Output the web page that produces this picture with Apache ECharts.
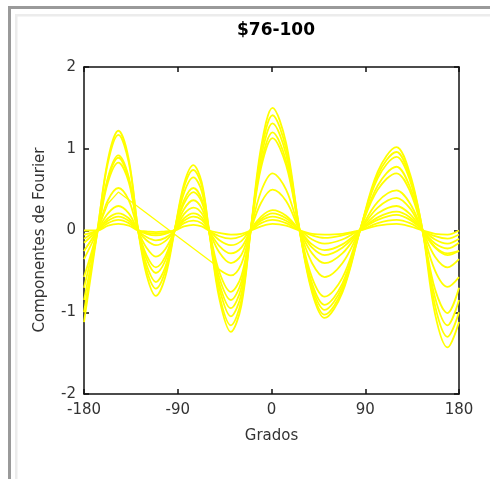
<!DOCTYPE html>
<html>
<head>
<meta charset="utf-8">
<script src="https://cdn.jsdelivr.net/npm/echarts@6/dist/echarts.min.js"></script>
<style>
html,body{margin:0;padding:0;background:#fff;}
#c{width:490px;height:479px;}
</style>
</head>
<body>
<div id="c"></div>
<script>
// Degrees (x samples, placed at the zero crossings, peaks and troughs)
var grados = [-180,-167,-157,-147,-137,-128,-120,-111,-102,-93,-84,-75,-67,-60,-50,-39,-29,-20,-10,1,14,27,39,51,68,85,102,120,133,145,157,169,180];

var curve1 = [-1.12,0.00,0.87,1.22,0.87,0.00,-0.54,-0.80,-0.57,0.00,0.57,0.80,0.59,0.00,-0.84,-1.24,-0.92,0.00,1.02,1.50,1.07,0.00,-0.76,-1.07,-0.76,0.00,0.72,1.02,0.69,0.00,-1.02,-1.43,-1.12];
var curve2 = [-1.00,0.02,0.83,1.17,0.83,0.01,-0.48,-0.71,-0.50,0.00,0.53,0.74,0.55,0.01,-0.79,-1.16,-0.86,-0.01,0.96,1.41,1.00,0.01,-0.73,-1.03,-0.73,0.00,0.68,0.96,0.65,0.01,-0.92,-1.30,-1.00];
var curve3 = [-0.85,-0.02,0.65,0.92,0.65,-0.01,-0.42,-0.63,-0.45,0.01,0.46,0.65,0.48,-0.01,-0.71,-1.05,-0.78,0.01,0.89,1.31,0.93,-0.01,-0.69,-0.97,-0.69,0.01,0.64,0.90,0.61,-0.01,-0.82,-1.16,-0.85];
var curve4 = [-0.70,0.01,0.63,0.89,0.63,0.00,-0.35,-0.52,-0.37,0.00,0.37,0.52,0.38,0.00,-0.65,-0.95,-0.70,0.01,0.82,1.20,0.85,0.00,-0.65,-0.91,-0.65,0.00,0.55,0.78,0.53,0.00,-0.72,-1.01,-0.70];
var curve5 = [-0.57,0.00,0.59,0.83,0.59,0.01,-0.30,-0.45,-0.32,0.01,0.33,0.47,0.35,0.00,-0.58,-0.85,-0.63,0.00,0.77,1.13,0.80,0.01,-0.58,-0.81,-0.58,0.01,0.50,0.70,0.48,0.00,-0.49,-0.69,-0.57];
var curve6 = [-0.35,0.00,0.37,0.52,0.37,0.00,-0.21,-0.32,-0.23,0.00,0.26,0.37,0.27,0.00,-0.51,-0.75,-0.56,0.00,0.48,0.70,0.50,0.00,-0.40,-0.57,-0.40,0.00,0.35,0.49,0.33,0.00,-0.32,-0.45,-0.35];
var curve7 = [-0.25,0.00,0.21,0.30,0.21,0.00,-0.12,-0.18,-0.13,0.00,0.20,0.28,0.21,0.00,-0.27,-0.40,-0.30,0.00,0.17,0.25,0.18,0.00,-0.21,-0.30,-0.21,0.00,0.21,0.30,0.20,0.00,-0.20,-0.28,-0.25];
var curve8 = [-0.15,0.00,0.15,0.21,0.15,0.00,-0.08,-0.12,-0.09,0.00,0.15,0.21,0.16,0.00,-0.19,-0.28,-0.21,0.00,0.14,0.21,0.15,0.00,-0.17,-0.24,-0.17,0.00,0.16,0.23,0.16,0.00,-0.16,-0.22,-0.15];
var curve9 = [-0.10,0.01,0.12,0.17,0.12,0.01,-0.04,-0.06,-0.04,0.01,0.12,0.17,0.13,0.01,-0.12,-0.18,-0.13,0.01,0.12,0.17,0.12,0.01,-0.11,-0.16,-0.11,0.01,0.13,0.19,0.13,0.01,-0.11,-0.16,-0.10];
var curve10 = [-0.05,0.00,0.09,0.13,0.09,0.00,-0.03,-0.04,-0.03,0.00,0.09,0.12,0.09,0.00,-0.07,-0.10,-0.07,0.00,0.09,0.13,0.09,0.00,-0.06,-0.09,-0.06,0.00,0.09,0.13,0.09,0.00,-0.07,-0.10,-0.05];
var curve11 = [0.00,0.00,0.06,0.08,0.06,0.00,-0.01,-0.02,-0.01,0.00,0.05,0.07,0.05,0.00,-0.03,-0.05,-0.04,0.00,0.05,0.08,0.06,0.00,-0.04,-0.05,-0.04,0.00,0.06,0.08,0.05,0.00,-0.04,-0.05,0.00];

// curve with missing samples: straight segment from -147 to -56 degrees
var gradosGap = [-180,-167,-157,-147,-56,-50,-39,-29,-20,-10,1,14,27,39,51,68,85,102,120,133,145,157,169,180];
var curveGap = [-0.25,0.00,0.33,0.47,-0.40,-0.48,-0.55,-0.41,0.00,0.34,0.50,0.36,0.00,-0.28,-0.40,-0.28,0.00,0.28,0.40,0.27,0.00,-0.21,-0.30,-0.25];

var xTicks = [-180,-90,0,90,180];
var yTicks = [-2,-1,0,1,2];

var titleText = '$76-100';
var xName = 'Grados';
var yName = 'Componentes de Fourier';

var smoothCurves = [curve1,curve2,curve3,curve4,curve5,curve6,curve7,curve8,curve9,curve10,curve11];

function pairs(xs, ys){ return xs.map(function(x,i){ return [x, ys[i]]; }); }

var YEL = '#ffff00';
var LW = 1.8;
var series = smoothCurves.map(function(c){
  return {type:'line', data: pairs(grados, c), showSymbol:false, smooth:0.35,
    lineStyle:{color:YEL, width:LW}, silent:true};
});
var gapPairs = pairs(gradosGap, curveGap);
series.push({type:'line', data: gapPairs.slice(0,5), showSymbol:false, smooth:false,
  lineStyle:{color:YEL, width:1.3}, silent:true});
series.push({type:'line', data: gapPairs.slice(4), showSymbol:false, smooth:0.35,
  lineStyle:{color:YEL, width:LW}, silent:true});

var FONT = 'DejaVu Sans';
var axisCommon = {
  axisLine:{show:true, onZero:false, lineStyle:{color:'#111', width:1.5}},
  axisTick:{show:true, inside:true, length:5, lineStyle:{color:'#111', width:1.5}},
  splitLine:{show:false}
};

var chart = echarts.init(document.getElementById('c'), null, {renderer:'canvas'});
chart.setOption({
  animation:false,
  backgroundColor:'#fff',
  title:{text:titleText, left:271, top:17, textAlign:'center',
    textStyle:{fontFamily:FONT, fontSize:17, fontWeight:'bold', color:'#000'}},
  grid:{left:84, top:67, width:375, height:327, containLabel:false},
  xAxis:[
    Object.assign({type:'value', position:'bottom', min:xTicks[0], max:xTicks[xTicks.length-1], interval:90,
      name:xName, nameLocation:'middle', nameGap:35,
      nameTextStyle:{fontFamily:FONT, fontSize:15, color:'#333'},
      axisLabel:{fontFamily:FONT, fontSize:15, color:'#333', margin:9}}, axisCommon),
    Object.assign({type:'value', position:'top', min:xTicks[0], max:xTicks[xTicks.length-1], interval:90,
      axisLabel:{show:false}}, axisCommon)
  ],
  yAxis:[
    Object.assign({type:'value', position:'left', min:yTicks[0], max:yTicks[yTicks.length-1], interval:1,
      axisLabel:{fontFamily:FONT, fontSize:15, color:'#333', margin:8}}, axisCommon),
    Object.assign({type:'value', position:'right', min:yTicks[0], max:yTicks[yTicks.length-1], interval:1,
      axisLabel:{show:false}}, axisCommon)
  ],
  graphic:[
    {type:'rect', shape:{x:8, y:6, width:3, height:473}, style:{fill:'#9a9a9a'}, silent:true},
    {type:'rect', shape:{x:8, y:6, width:482, height:3}, style:{fill:'#9a9a9a'}, silent:true},
    {type:'rect', shape:{x:15, y:14, width:2.5, height:465}, style:{fill:'#ececec'}, silent:true},
    {type:'rect', shape:{x:15, y:14, width:475, height:2.5}, style:{fill:'#ececec'}, silent:true},
    {type:'text', x:40, y:240, rotation:Math.PI/2, silent:true,
      style:{text:yName, fontFamily:FONT, fontSize:15, fill:'#333', align:'center', verticalAlign:'middle'}}
  ],
  series: series
});
</script>
</body>
</html>
